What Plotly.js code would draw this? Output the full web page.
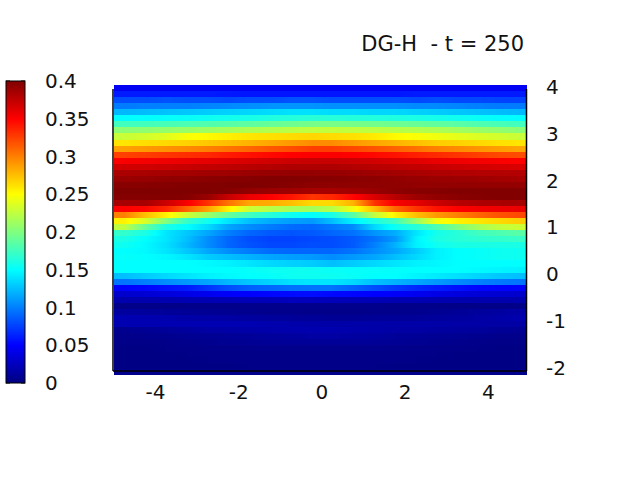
<!DOCTYPE html>
<html><head><meta charset="utf-8">
<script src="https://cdn.plot.ly/plotly-3.0.1.min.js"></script>
<style>html,body{margin:0;padding:0;background:#fff}</style></head>
<body><div id="chart" style="width:640px;height:480px"></div>
<script>
var xCenters=[-4.75,-4.25,-3.75,-3.25,-2.75,-2.25,-1.75,-1.25,-0.75,-0.25,0.25,0.75,1.25,1.75,2.25,2.75,3.25,3.75,4.25,4.75];
var xTicks=[-4,-2,0,2,4];
var xLabels=['-4','-2','0','2','4'];
var yTicks=[-2,-1,0,1,2,3,4];
var yLabels=['-2','-1','0','1','2','3','4'];
var cbTicks=[0,0.05,0.1,0.15,0.2,0.25,0.3,0.35,0.4];
var cbLabels=['0','0.05','0.1','0.15','0.2','0.25','0.3','0.35','0.4'];
var titleText='DG-H\u00a0\u00a0- t = 250';
// rows listed from the top of the image downward
var rowsTopDown=[
[.045,.045,.045,.045,.045,.046,.046,.046,.046,.046,.046,.046,.046,.046,.046,.046,.046,.046,.045,.045],
[.06,.06,.06,.06,.06,.059,.058,.058,.058,.058,.058,.058,.058,.058,.06,.06,.06,.06,.06,.06],
[.08,.08,.082,.08,.08,.078,.08,.08,.082,.082,.08,.08,.08,.08,.078,.08,.078,.078,.076,.076],
[.098,.1,.1,.1,.102,.104,.106,.108,.108,.108,.106,.106,.106,.106,.104,.104,.102,.1,.098,.098],
[.122,.124,.126,.128,.13,.132,.134,.136,.138,.138,.136,.136,.134,.134,.132,.13,.128,.126,.124,.122],
[.15,.151,.152,.153,.155,.157,.159,.162,.164,.166,.165,.164,.163,.162,.16,.158,.156,.153,.151,.15],
[.175,.176,.178,.18,.182,.184,.187,.19,.193,.196,.197,.196,.195,.193,.191,.188,.185,.181,.178,.175],
[.205,.206,.208,.21,.212,.215,.218,.22,.223,.225,.226,.225,.224,.222,.22,.218,.214,.21,.207,.204],
[.228,.232,.238,.248,.252,.256,.26,.262,.264,.266,.264,.262,.258,.252,.248,.244,.24,.236,.232,.228],
[.26,.263,.265,.268,.272,.276,.28,.285,.29,.295,.295,.29,.285,.28,.275,.27,.268,.265,.262,.26],
[.287,.29,.293,.296,.3,.305,.31,.316,.32,.326,.326,.322,.318,.312,.306,.3,.296,.292,.288,.285],
[.325,.327,.33,.332,.335,.34,.344,.347,.35,.352,.352,.35,.347,.343,.338,.334,.33,.326,.322,.32],
[.352,.354,.356,.358,.36,.363,.366,.368,.37,.372,.372,.37,.368,.365,.362,.358,.356,.354,.352,.35],
[.368,.369,.37,.372,.374,.376,.378,.38,.382,.382,.382,.38,.378,.376,.374,.372,.37,.368,.366,.365],
[.383,.384,.385,.386,.387,.388,.39,.391,.392,.392,.391,.39,.388,.386,.384,.382,.381,.38,.38,.38],
[.39,.391,.393,.394,.396,.397,.398,.399,.399,.398,.397,.396,.395,.393,.391,.39,.389,.388,.386,.385],
[.397,.397,.398,.399,.399,.4,.4,.399,.397,.395,.394,.394,.394,.394,.393,.393,.393,.392,.392,.392],
[.4,.4,.4,.4,.4,.398,.393,.39,.388,.385,.385,.387,.391,.395,.397,.398,.399,.399,.399,.399],
[.398,.398,.399,.398,.39,.372,.358,.35,.342,.33,.335,.348,.365,.378,.388,.393,.396,.398,.399,.399],
[.385,.385,.37,.352,.33,.305,.285,.283,.275,.265,.265,.28,.33,.352,.36,.37,.378,.382,.384,.385],
[.35,.347,.335,.31,.285,.255,.23,.222,.216,.214,.222,.245,.275,.31,.33,.343,.35,.354,.356,.358],
[.3,.275,.255,.23,.21,.19,.175,.165,.155,.15,.16,.185,.225,.255,.275,.29,.3,.31,.318,.322],
[.255,.235,.2,.17,.155,.14,.125,.117,.112,.11,.125,.145,.16,.175,.21,.245,.255,.26,.265,.27],
[.225,.19,.16,.15,.135,.115,.105,.098,.092,.09,.097,.105,.135,.155,.165,.18,.2,.215,.225,.23],
[.17,.16,.14,.128,.115,.1,.09,.085,.083,.085,.09,.095,.108,.118,.14,.158,.165,.175,.18,.185],
[.16,.15,.14,.125,.105,.09,.08,.076,.076,.078,.08,.085,.095,.11,.145,.16,.165,.168,.17,.172],
[.155,.148,.138,.122,.105,.09,.082,.078,.078,.08,.08,.085,.1,.12,.145,.155,.16,.16,.16,.16],
[.15,.148,.14,.128,.115,.105,.098,.092,.09,.09,.09,.095,.105,.115,.13,.145,.15,.152,.155,.155],
[.152,.15,.147,.14,.13,.125,.12,.115,.112,.11,.105,.11,.115,.125,.135,.145,.15,.152,.155,.155],
[.15,.15,.15,.15,.148,.145,.14,.135,.132,.13,.125,.13,.135,.14,.145,.147,.15,.15,.15,.15],
[.15,.15,.15,.15,.15,.15,.152,.154,.155,.155,.153,.152,.152,.151,.15,.15,.15,.148,.146,.145],
[.125,.13,.135,.14,.145,.148,.15,.152,.155,.155,.155,.153,.15,.15,.146,.142,.138,.133,.128,.125],
[.095,.1,.105,.11,.115,.122,.128,.133,.138,.14,.14,.135,.125,.12,.115,.11,.105,.1,.097,.095],
[.05,.052,.056,.06,.07,.08,.087,.09,.094,.095,.095,.088,.08,.072,.065,.06,.056,.052,.05,.05],
[.03,.033,.036,.04,.044,.048,.05,.052,.054,.055,.053,.052,.05,.048,.044,.04,.037,.034,.032,.03],
[.018,.018,.019,.02,.02,.021,.022,.023,.024,.024,.023,.022,.021,.02,.02,.019,.018,.018,.018,.018],
[.003,.003,.003,.004,.004,.004,.005,.005,.005,.005,.005,.005,.005,.004,.004,.004,.003,.003,.003,.003],
[.012,.011,.01,.009,.008,.007,.006,.005,.005,.004,.004,.004,.005,.005,.006,.007,.009,.011,.013,.015],
[.02,.019,.018,.016,.015,.014,.012,.011,.01,.01,.008,.008,.009,.01,.01,.011,.012,.014,.016,.018],
[.02,.02,.02,.02,.02,.02,.02,.018,.017,.016,.016,.016,.016,.016,.016,.016,.015,.015,.014,.014],
[.006,.008,.01,.012,.014,.015,.016,.017,.018,.018,.018,.017,.016,.015,.014,.013,.012,.011,.009,.008],
[.004,.005,.006,.007,.008,.009,.01,.011,.012,.014,.014,.013,.012,.01,.009,.008,.007,.006,.005,.005],
[.003,.003,.004,.005,.006,.007,.008,.009,.01,.01,.01,.01,.009,.008,.007,.006,.005,.004,.003,.003],
[.002,.002,.003,.003,.004,.004,.005,.005,.005,.005,.005,.005,.005,.005,.004,.004,.003,.003,.002,.002],
[.002,.002,.002,.003,.003,.003,.003,.003,.003,.003,.003,.003,.003,.003,.003,.003,.002,.002,.002,.002],
[.002,.002,.002,.002,.003,.003,.003,.003,.003,.003,.003,.003,.003,.003,.003,.002,.002,.002,.002,.002],
[.002,.002,.002,.002,.002,.002,.003,.003,.003,.003,.003,.003,.003,.002,.002,.002,.002,.002,.002,.002],
[.005,.005,.005,.005,.005,.005,.005,.005,.005,.005,.005,.005,.005,.005,.005,.005,.005,.005,.005,.005]
];
var jet=[[0,'rgb(0,0,128)'],[0.125,'rgb(0,0,255)'],[0.375,'rgb(0,255,255)'],[0.625,'rgb(255,255,0)'],[0.875,'rgb(255,0,0)'],[1,'rgb(128,0,0)']];
var font={family:'"DejaVu Sans",sans-serif',size:20,color:'#111'};
var titleFont={family:'"DejaVu Sans",sans-serif',size:21,color:'#111'};
var yTop=4.04, rowH=0.1291, eps=0.002;
// each read row is kept flat over its own band so the image stays stepped vertically and smooth along x
var yEdges=[], zRows=[];
for(var i=rowsTopDown.length-1;i>=0;i--){
  yEdges.push(yTop-(i+1)*rowH+eps, yTop-i*rowH-eps);
  zRows.push(rowsTopDown[i], rowsTopDown[i]);
}
function seg(x0,y0,x1,y1,w){return {type:'line',xref:'paper',yref:'paper',x0:x0,y0:y0,x1:x1,y1:y1,line:{color:'#000',width:w},layer:'above'};}
function pxX(p){return (p-114)/413;}
function pxY(p){return (375-p)/290;}
var shapes=[seg(pxX(113),pxY(371),pxX(113),pxY(89),1.5),seg(pxX(113),pxY(371),pxX(526.5),pxY(371),1.5),seg(pxX(526.5),pxY(371),pxX(526.5),pxY(89),1.5)];
cbTicks.forEach(function(v){
  var p=383-v/0.4*302;
  shapes.push(seg(pxX(6),pxY(p),pxX(10),pxY(p),1));
  shapes.push(seg(pxX(21),pxY(p),pxX(25),pxY(p),1));
});
var trace={type:'heatmap',x:xCenters,y:yEdges,z:zRows,
 colorscale:jet,zmin:0,zmax:0.4,zsmooth:'best',hoverinfo:'skip',
 colorbar:{x:pxX(6),xref:'paper',xanchor:'left',y:pxY(232),yref:'paper',yanchor:'middle',thickness:19,thicknessmode:'pixels',
  len:302,lenmode:'pixels',xpad:0,ypad:0,outlinecolor:'#000',outlinewidth:1,borderwidth:0,
  tickmode:'array',tickvals:cbTicks,ticktext:cbLabels,ticks:'outside',ticklen:16,tickcolor:'rgba(0,0,0,0)',tickfont:font}};
var layout={width:640,height:480,margin:{l:114,r:113,t:85,b:105,pad:0,autoexpand:false},paper_bgcolor:'#fff',plot_bgcolor:'#fff',font:font,
 title:{text:titleText,font:titleFont,x:524/640,xanchor:'right',xref:'container',y:1-44/480,yanchor:'middle',yref:'container'},
 xaxis:{range:[-5,4.93],tickmode:'array',tickvals:xTicks,ticktext:xLabels,showgrid:false,zeroline:false,showline:false,ticks:'',tickfont:font,ticklabelstandoff:3},
 yaxis:{range:[-2.15,4.04],side:'right',tickmode:'array',tickvals:yTicks,ticktext:yLabels,showgrid:false,zeroline:false,showline:false,ticks:'',tickfont:font,ticklabelstandoff:18},
 shapes:shapes};
Plotly.newPlot('chart',[trace],layout,{displayModeBar:false,staticPlot:true});
</script></body></html>
